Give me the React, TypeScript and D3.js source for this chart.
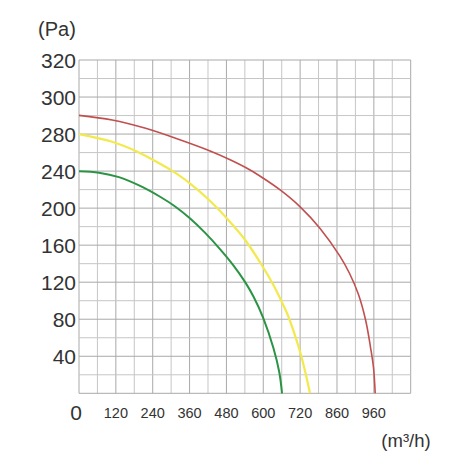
import React from "react";
import * as d3 from "d3";

// Flow (m³/h) vs pressure (Pa)
const redFlow = [0, 108, 217, 326, 427, 492, 557, 600, 655, 720, 785, 850, 881, 910, 933.5, 949, 959, 964.4];
const redPa = [290.1, 287.6, 283.1, 274.1, 261.7, 252.2, 241.2, 232.3, 219.6, 201.4, 178.1, 147.9, 129.4, 106.7, 78.6, 50, 27.3, 0];
const yellowFlow = [0, 108, 190, 271, 296, 361, 427, 492, 541, 595, 633, 665, 682, 720, 736, 752];
const yellowPa = [280, 271.7, 260.9, 246.6, 241.8, 226.8, 207.7, 185, 165.6, 138.6, 117, 95.4, 82.7, 44.6, 24, 0];
const greenFlow = [0, 65, 130, 199, 264, 313, 361, 410, 459, 502, 541, 568, 600, 633, 652, 661];
const greenPa = [239.8, 238.3, 233.5, 224, 212.3, 201.8, 189, 173.5, 155.8, 138.5, 120.1, 104.5, 81.3, 48.9, 23, 0];

const xTickValues = [120, 240, 360, 480, 600, 720, 840, 960];
const xTickLabels = ["120", "240", "360", "480", "600", "720", "860", "960"];
const yTickValues = [40, 80, 120, 160, 200, 240, 280, 300, 320];
const yTickLabels = ["40", "80", "120", "160", "200", "240", "280", "300", "320"];

const series = [
  { name: "red", flow: redFlow, pa: redPa, color: "#c0504f", width: 1.6 },
  { name: "yellow", flow: yellowFlow, pa: yellowPa, color: "#f2ea4c", width: 2.2 },
  { name: "green", flow: greenFlow, pa: greenPa, color: "#2b9444", width: 2 },
];

const L = 79, R = 410.7, T = 60, B = 393.3;

export default function App() {
  const x = d3.scaleLinear().domain([0, 1080]).range([L, R]);
  // axis is labelled 40 Pa per major step up to 280, then 20 Pa per step
  const y = d3.scaleLinear().domain([0, 280, 320]).range([B, B - (7 / 9) * (B - T), T]);

  const vLines = d3.range(0, 1081, 60);
  const rowH = (B - T) / 18;
  const hLines = d3.range(0, 19).map((i) => B - i * rowH);

  const line = d3
    .line<[number, number]>()
    .x((d) => x(d[0]))
    .y((d) => y(d[1]))
    .curve(d3.curveCatmullRom.alpha(0.5));

  const font = "'Liberation Sans', Arial, sans-serif";

  return (
    <svg width={470} height={470} style={{ position: "absolute", left: 0, top: 0, background: "#fff" }}>
      <rect x={0} y={0} width={470} height={470} fill="#fff" />
      <g>
        {vLines.map((v, i) => (
          <line key={"v" + i} x1={x(v)} x2={x(v)} y1={T} y2={B} stroke={i % 2 === 0 ? "#a9a9a9" : "#c6c6c6"} strokeWidth={1} />
        ))}
        {hLines.map((py, i) => (
          <line key={"h" + i} x1={L} x2={R} y1={py} y2={py} stroke={i % 2 === 0 ? "#a9a9a9" : "#c6c6c6"} strokeWidth={1} />
        ))}
      </g>
      {series.map((s) => (
        <path
          key={s.name}
          d={line(s.flow.map((f, i) => [f, s.pa[i]] as [number, number])) || ""}
          fill="none"
          stroke={s.color}
          strokeWidth={s.width}
        />
      ))}
      <g fontFamily={font} fill="#333">
        <text x={57} y={29} fontSize={20} textAnchor="middle" dominantBaseline="central">(Pa)</text>
        {yTickValues.map((v, i) => (
          <text key={"y" + v} x={76} y={y(v)} fontSize={21} textAnchor="end" dominantBaseline="central">
            {yTickLabels[i]}
          </text>
        ))}
        <text x={76} y={412} fontSize={21} textAnchor="middle" dominantBaseline="central">0</text>
        {xTickValues.map((v, i) => (
          <text key={"x" + v} x={x(v)} y={413} fontSize={14.5} textAnchor="middle" dominantBaseline="central">
            {xTickLabels[i]}
          </text>
        ))}
        <text x={406} y={440} fontSize={18.5} textAnchor="middle" dominantBaseline="central">(m³/h)</text>
      </g>
    </svg>
  );
}
